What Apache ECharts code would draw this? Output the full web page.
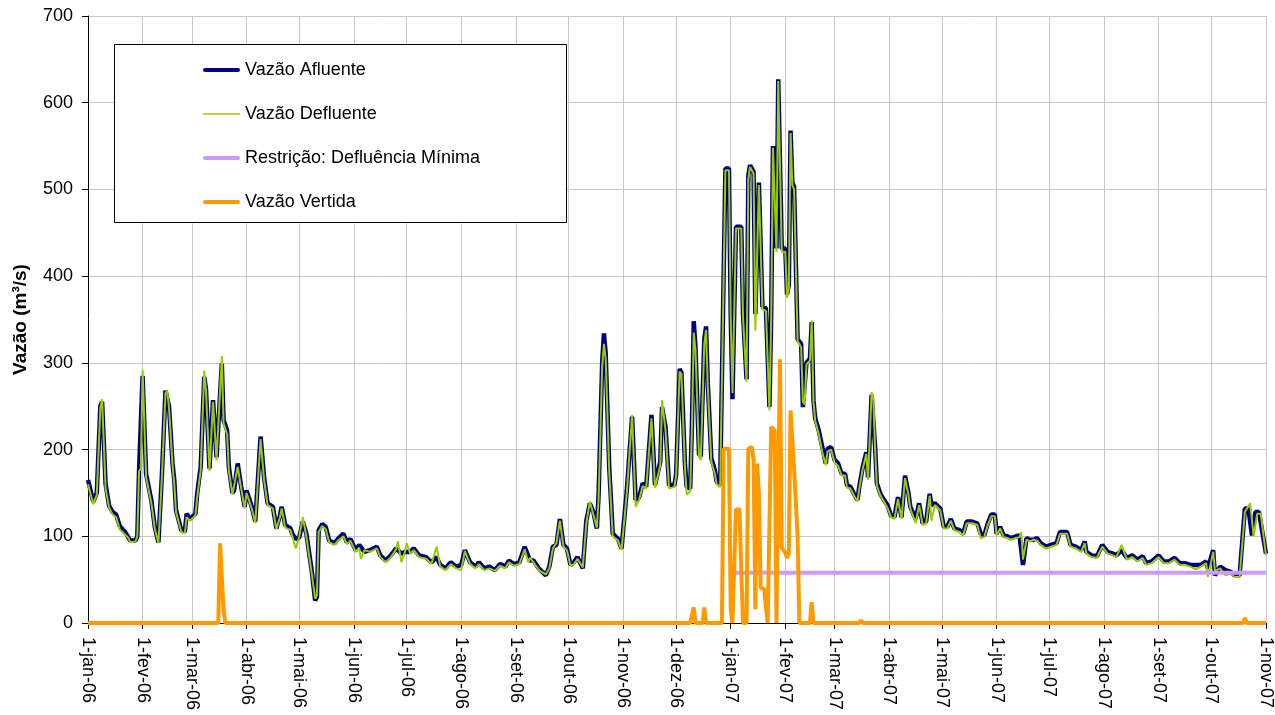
<!DOCTYPE html>
<html><head><meta charset="utf-8">
<script src="https://cdn.jsdelivr.net/npm/echarts@6/dist/echarts.min.js"></script>
<style>html,body{margin:0;padding:0;background:#fff}#c{width:1275px;height:715px}</style>
</head><body><div id="c"></div>
<script>
// Month abbreviations used for the daily category labels (tick labels)
const monthNames = ['jan','fev','mar','abr','mai','jun','jul','ago','set','out','nov','dez'];
const startYear = 2006, dayCount = 670; // 1-jan-06 .. 1-nov-07
const categories = [];
for (let i = 0; i < dayCount; i++) {
  const dt = new Date(Date.UTC(startYear, 0, 1 + i));
  categories.push(dt.getUTCDate() + '-' + monthNames[dt.getUTCMonth()] + '-' + String(dt.getUTCFullYear()).slice(2));
}

// [day index since 1-jan-06, m3/s]
const afluente = [[0,165],[3,140],[5,150],[6,152],[7,250],[8,255],[10,160],[12,135],[14,128],[16,125],[18,112],[21,105],[24,95],[27,95],[28,100],[29,176],[30,178],[31,285],[33,172],[36,141],[38,110],[40,93],[42,172],[44,268],[45,270],[46,250],[48,184],[49,165],[50,130],[53,107],[55,105],[56,126],[58,120],[61,126],[62,149],[64,180],[66,284],[67,270],[69,178],[71,257],[73,191],[74,191],[76,299],[77,234],[79,222],[80,180],[82,150],[83,153],[85,184],[87,157],[89,134],[90,153],[93,134],[95,117],[98,215],[100,168],[102,138],[105,134],[107,109],[109,124],[110,134],[112,113],[115,109],[116,103],[118,97],[120,99],[122,117],[124,103],[127,61],[129,26],[130,30],[131,107],[133,114],[135,111],[137,95],[140,92],[142,97],[145,103],[147,93],[149,97],[152,84],[154,90],[157,82],[160,84],[164,88],[166,78],[169,72],[172,78],[175,86],[178,80],[180,82],[183,82],[185,86],[188,78],[192,76],[195,70],[198,76],[200,67],[203,63],[206,70],[209,65],[212,67],[214,84],[217,70],[220,65],[222,70],[225,63],[228,65],[231,61],[234,68],[237,65],[239,72],[242,68],[245,70],[248,88],[251,72],[253,72],[256,63],[260,55],[262,65],[264,88],[266,90],[268,120],[270,90],[272,86],[274,67],[276,70],[278,76],[281,63],[283,118],[285,138],[287,128],[289,109],[290,149],[292,300],[293,334],[294,311],[296,180],[298,103],[301,97],[303,86],[304,88],[306,153],[309,238],[311,142],[313,145],[315,161],[317,157],[320,240],[322,159],[325,186],[326,249],[328,226],[330,159],[333,159],[334,171],[336,293],[337,289],[339,184],[340,157],[342,155],[343,230],[344,348],[345,318],[347,195],[348,192],[350,327],[351,342],[352,276],[353,274],[354,190],[356,176],[357,163],[359,159],[360,159],[362,524],[364,524],[365,356],[366,258],[368,457],[371,457],[372,356],[374,281],[375,516],[376,528],[378,520],[379,356],[381,508],[383,365],[385,363],[387,249],[388,356],[389,550],[390,550],[391,432],[392,627],[393,627],[394,432],[396,432],[397,379],[398,390],[399,568],[400,508],[401,503],[403,327],[405,322],[406,249],[407,249],[408,300],[410,305],[411,347],[412,257],[413,236],[415,222],[417,203],[419,184],[420,201],[422,203],[424,188],[426,184],[428,172],[430,172],[431,159],[433,157],[435,149],[437,142],[438,157],[440,180],[442,197],[443,168],[445,263],[446,263],[447,203],[448,161],[450,149],[452,142],[454,136],[456,124],[458,122],[460,145],[462,122],[464,170],[466,149],[467,134],[470,120],[472,138],[474,115],[476,117],[478,149],[479,136],[481,138],[484,132],[486,111],[488,111],[490,120],[492,109],[495,107],[497,103],[499,117],[502,117],[505,115],[507,103],[509,101],[511,115],[513,125],[515,125],[516,103],[518,111],[520,101],[522,100],[524,98],[527,100],[529,101],[530,100],[531,67],[533,98],[535,96],[537,96],[539,98],[541,92],[544,88],[547,90],[550,92],[552,105],[556,105],[558,90],[561,88],[564,84],[566,94],[567,82],[570,78],[573,77],[576,90],[579,82],[582,80],[584,78],[587,84],[590,75],[593,78],[596,73],[599,77],[601,69],[604,71],[608,78],[611,71],[614,71],[617,75],[620,69],[623,69],[626,67],[629,67],[632,67],[635,71],[636,63],[639,84],[640,55],[643,65],[646,61],[649,59],[651,55],[654,55],[655,57],[657,132],[659,132],[661,101],[663,128],[665,128],[669,80]];

const defluente = [[0,160],[3,137],[5,148],[6,150],[7,248],[8,258],[10,155],[12,133],[14,125],[16,122],[18,108],[21,102],[23,98],[24,93],[27,94],[28,100],[29,175],[30,178],[31,292],[33,168],[36,138],[38,108],[40,92],[42,170],[44,265],[45,268],[46,248],[48,182],[49,160],[50,128],[53,105],[55,103],[56,122],[58,118],[61,124],[62,145],[64,176],[66,291],[67,268],[69,175],[71,255],[73,188],[74,190],[76,308],[77,230],[79,218],[80,176],[82,148],[83,150],[85,180],[87,155],[89,132],[90,150],[93,132],[95,115],[98,212],[100,165],[102,136],[105,132],[107,108],[109,122],[110,132],[112,110],[115,107],[116,100],[118,86],[120,100],[122,122],[124,100],[127,58],[129,28],[130,32],[131,105],[133,112],[135,108],[137,93],[140,90],[142,95],[145,100],[147,91],[149,95],[152,82],[154,87],[155,74],[157,84],[160,82],[164,86],[166,76],[169,70],[172,76],[175,85],[176,94],[178,70],[180,82],[181,92],[183,80],[185,84],[188,76],[192,74],[195,68],[198,88],[200,65],[203,61],[206,68],[209,63],[212,61],[214,83],[217,68],[220,63],[222,68],[225,61],[228,63],[231,60],[234,66],[237,63],[239,70],[242,66],[245,68],[248,85],[250,70],[251,75],[253,70],[256,61],[260,56],[262,63],[264,86],[266,92],[268,118],[270,88],[272,84],[274,66],[276,68],[278,74],[281,64],[283,115],[285,140],[287,125],[289,110],[290,145],[292,295],[293,322],[294,305],[296,175],[298,100],[301,95],[303,84],[304,86],[306,150],[309,240],[311,134],[313,142],[315,158],[317,155],[320,236],[322,156],[325,182],[326,257],[328,222],[330,155],[333,157],[334,170],[336,290],[337,287],[339,180],[340,148],[342,152],[343,226],[344,335],[345,315],[347,192],[348,188],[350,322],[351,338],[352,272],[353,270],[354,186],[356,172],[357,160],[359,157],[360,157],[362,522],[364,522],[365,352],[366,265],[368,455],[371,455],[372,352],[374,278],[375,512],[376,526],[378,518],[379,337],[381,505],[383,362],[385,360],[387,245],[388,352],[389,548],[390,548],[391,428],[392,625],[393,625],[394,428],[396,428],[397,375],[398,386],[399,565],[400,505],[401,500],[403,325],[405,318],[406,255],[407,252],[408,298],[410,303],[411,349],[412,255],[413,233],[415,218],[417,197],[419,182],[420,198],[422,200],[424,185],[426,181],[428,170],[430,170],[431,156],[433,155],[435,147],[437,140],[438,155],[440,178],[442,195],[443,165],[445,266],[446,260],[447,200],[448,158],[450,147],[452,140],[454,133],[456,122],[458,120],[460,143],[462,120],[464,167],[466,147],[467,132],[470,115],[472,136],[474,113],[476,115],[478,147],[479,118],[481,136],[484,130],[486,109],[488,109],[490,118],[492,107],[495,105],[497,101],[499,115],[502,115],[505,113],[507,98],[509,99],[511,113],[513,123],[515,123],[516,101],[518,109],[520,99],[522,98],[524,96],[527,98],[529,99],[530,105],[531,73],[533,96],[535,94],[537,96],[539,95],[541,90],[544,86],[547,88],[550,90],[552,103],[556,103],[558,88],[561,86],[564,82],[566,92],[567,80],[570,76],[573,75],[576,88],[579,80],[582,78],[584,76],[587,90],[590,73],[593,76],[596,71],[599,75],[601,67],[604,69],[608,76],[611,69],[614,69],[617,73],[620,67],[623,67],[626,65],[629,62],[632,65],[635,69],[636,53],[639,82],[640,60],[643,63],[646,55],[649,57],[651,53],[654,53],[655,52],[657,128],[660,138],[662,100],[664,126],[666,126],[669,78]];

const restricao = [[365,58],[669,58]];

const vertida = [[0,0],[74,0],[75,92],[76,92],[77,15],[78,0],[342,0],[344,18],[345,0],[349,0],[350,18],[351,0],[360,0],[361,201],[364,201],[365,16],[366,0],[368,131],[370,131],[371,60],[372,0],[374,0],[375,201],[377,203],[378,188],[379,16],[380,184],[381,150],[382,41],[384,39],[386,0],[388,226],[390,222],[391,0],[393,304],[394,87],[396,81],[397,75],[398,80],[399,245],[400,245],[401,178],[402,176],[403,100],[404,0],[410,0],[411,24],[412,0],[438,0],[439,3],[440,0],[656,0],[657,6],[658,0],[669,0]];

const seriesNames = ['Vazão Afluente','Vazão Defluente','Restrição: Defluência Mínima','Vazão Vertida'];
const FONT = 'Liberation Sans, Arial, sans-serif';
const isMonthStart = (idx) => categories[idx].startsWith('1-');
const thickIcon = 'path://M2,0L35,0A2,2 0 0 1 35,4L2,4A2,2 0 0 1 2,0Z';
const thinIcon = 'path://M0,0L37,0L37,1.5L0,1.5Z';

const chart = echarts.init(document.getElementById('c'), null, {renderer: 'canvas'});
chart.setOption({
  animation: false,
  backgroundColor: '#fff',
  grid: {left: 88, right: 8, top: 16, bottom: 92, containLabel: false},
  xAxis: {
    type: 'category', data: categories, boundaryGap: false,
    axisLine: {lineStyle: {color: '#000', width: 1}},
    axisTick: {show: true, length: 6, interval: (i) => isMonthStart(i), lineStyle: {color: '#000'}},
    axisLabel: {interval: (i) => isMonthStart(i), rotate: -90, margin: 14, fontSize: 18, color: '#000', fontFamily: FONT},
    splitLine: {show: true, interval: (i) => isMonthStart(i), lineStyle: {color: '#c8c8c8', width: 1}}
  },
  yAxis: {
    type: 'value', min: 0, max: 700, interval: 100,
    name: 'Vazão (m³/s)', nameLocation: 'middle', nameRotate: 90, nameGap: 58,
    nameTextStyle: {fontSize: 19, fontWeight: 'bold', color: '#000', fontFamily: FONT},
    axisLine: {show: true, lineStyle: {color: '#000'}},
    axisTick: {show: true, length: 6, lineStyle: {color: '#000'}},
    axisLabel: {fontSize: 18, color: '#000', margin: 15, fontFamily: FONT},
    splitLine: {show: true, lineStyle: {color: '#c8c8c8', width: 1}}
  },
  graphic: [{type: 'rect', z: 10, shape: {x: 114.5, y: 44.5, width: 452, height: 178},
    style: {fill: '#fff', stroke: '#000', lineWidth: 1}}],
  legend: {
    z: 20, orient: 'vertical', left: 198, top: 56, itemWidth: 37, itemHeight: 18, itemGap: 26,
    symbolKeepAspect: true,
    textStyle: {fontSize: 18, color: '#000', fontFamily: FONT},
    data: [
      {name: seriesNames[0], icon: thickIcon},
      {name: seriesNames[1], icon: thinIcon},
      {name: seriesNames[2], icon: thickIcon},
      {name: seriesNames[3], icon: thickIcon}
    ]
  },
  series: [
    {name: seriesNames[0], type: 'line', data: afluente, symbol: 'none', lineStyle: {color: '#000080', width: 4.5}, itemStyle: {color: '#000080'}, z: 2},
    {name: seriesNames[1], type: 'line', data: defluente, symbol: 'none', lineStyle: {color: '#99cc00', width: 2}, itemStyle: {color: '#99cc00'}, z: 3},
    {name: seriesNames[2], type: 'line', data: restricao, symbol: 'none', lineStyle: {color: '#cc99ff', width: 4}, itemStyle: {color: '#cc99ff'}, z: 4},
    {name: seriesNames[3], type: 'line', data: vertida, symbol: 'none', lineStyle: {color: '#ff9900', width: 4}, itemStyle: {color: '#ff9900'}, z: 5}
  ]
});
</script></body></html>
